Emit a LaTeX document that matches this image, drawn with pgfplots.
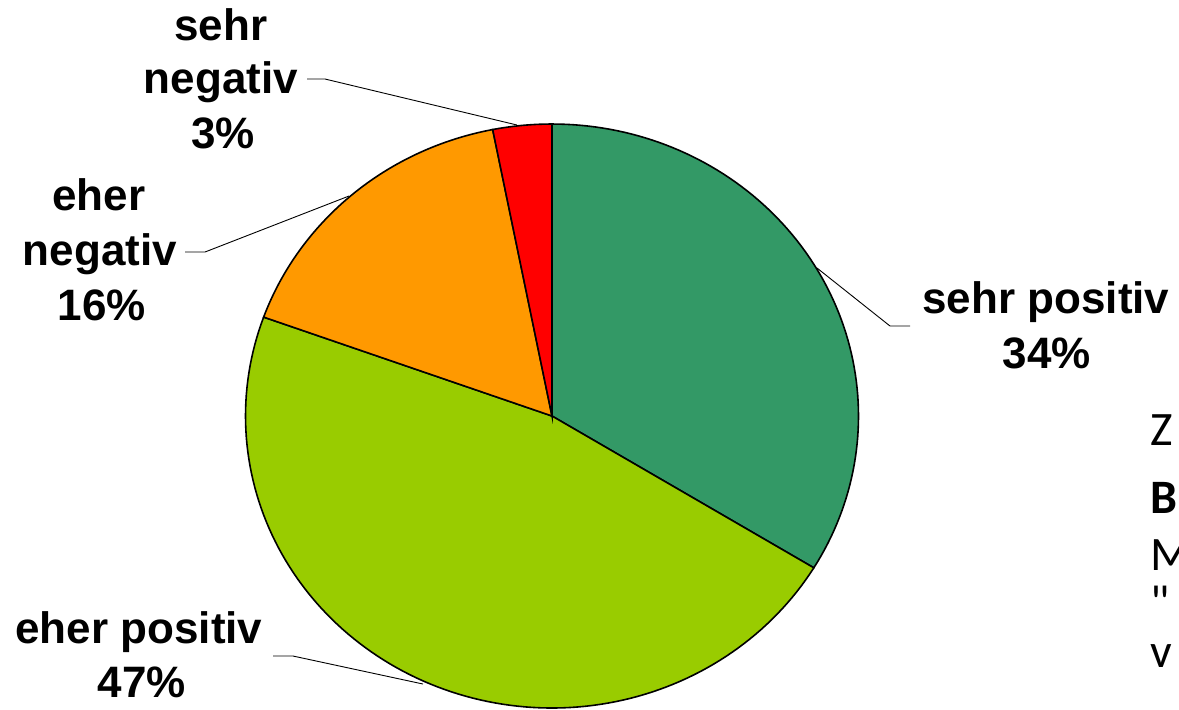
\documentclass[border=0pt]{standalone}
\usepackage{fontspec}
\setmainfont{Liberation Sans}
\newfontfamily\rightfont{Carlito}
\usepackage{pgfplots}
\pgfplotsset{compat=1.18}
\definecolor{sehrpos}{RGB}{51,153,102}
\definecolor{eherpos}{RGB}{153,204,0}
\definecolor{eherneg}{RGB}{255,153,0}
\definecolor{sehrneg}{RGB}{255,0,0}
% shares in percent (clockwise from 12 o'clock)
\def\vA{33.7}\def\vB{46.8}\def\vC{16.4}\def\vD{3.1}
\pgfmathsetmacro{\aA}{90}
\pgfmathsetmacro{\aB}{90-3.6*\vA}
\pgfmathsetmacro{\aC}{\aB-3.6*\vB}
\pgfmathsetmacro{\aD}{\aC-3.6*\vC}
\pgfmathsetmacro{\aE}{\aD-3.6*\vD}
\newcommand{\lbl}{\bfseries\fontsize{22}{27}\selectfont}
\newcommand{\rf}{\rightfont\fontsize{24}{28}\selectfont}
\begin{document}
\begin{tikzpicture}
\useasboundingbox (0,0) rectangle (589.5pt,-354.5pt);
\clip (0,0) rectangle (589.5pt,-354.5pt);
\begin{axis}[
  at={(0,0)}, anchor=north west,
  scale only axis, width=589.5pt, height=354.5pt,
  xmin=0, xmax=1179, ymin=0, ymax=709, y dir=reverse,
  hide axis, clip=false,
]
\addplot[draw=black, line width=0.8pt, fill=sehrpos, domain=\aB:\aA, samples=90]
  ({552+306.5*cos(x)},{416-292*sin(x)}) -- (axis cs:552,416) -- cycle;
\addplot[draw=black, line width=0.8pt, fill=eherpos, domain=\aC:\aB, samples=120]
  ({552+306.5*cos(x)},{416-292*sin(x)}) -- (axis cs:552,416) -- cycle;
\addplot[draw=black, line width=0.8pt, fill=eherneg, domain=\aD:\aC, samples=60]
  ({552+306.5*cos(x)},{416-292*sin(x)}) -- (axis cs:552,416) -- cycle;
\addplot[draw=black, line width=0.8pt, fill=sehrneg, domain=\aE:\aD, samples=20]
  ({552+306.5*cos(x)},{416-292*sin(x)}) -- (axis cs:552,416) -- cycle;

% leader lines
\draw[line width=0.45pt] (axis cs:307,79) -- (axis cs:325,79) -- (axis cs:517,125);
\draw[line width=0.45pt] (axis cs:185,252) -- (axis cs:205,252) -- (axis cs:349,196);
\draw[line width=0.45pt] (axis cs:817,268) -- (axis cs:890,326) -- (axis cs:910,326);
\draw[line width=0.45pt] (axis cs:273,656) -- (axis cs:293,656) -- (axis cs:423,684);

% labels
\node[anchor=base, font=\lbl, inner sep=0pt] at (axis cs:221,40) {sehr};
\node[anchor=base, font=\lbl, inner sep=0pt] at (axis cs:221,93) {negativ};
\node[anchor=base, font=\lbl, inner sep=0pt] at (axis cs:223,148) {3\%};
\node[anchor=base, font=\lbl, inner sep=0pt] at (axis cs:99,210) {eher};
\node[anchor=base, font=\lbl, inner sep=0pt] at (axis cs:100,265) {negativ};
\node[anchor=base, font=\lbl, inner sep=0pt] at (axis cs:102,320) {16\%};
\node[anchor=base, font=\lbl, inner sep=0pt] at (axis cs:1046,313) {sehr positiv};
\node[anchor=base, font=\lbl, inner sep=0pt] at (axis cs:1047,368) {34\%};
\node[anchor=base, font=\lbl, inner sep=0pt] at (axis cs:139,643) {eher positiv};
\node[anchor=base, font=\lbl, inner sep=0pt] at (axis cs:142,697) {47\%};

% cut-off text at the right edge
\node[anchor=base west, inner sep=0pt, font=\rf] at (axis cs:1150,445) {Z};
\node[anchor=base west, inner sep=0pt, font=\rf\bfseries] at (axis cs:1150,513) {B};
\node[anchor=base west, inner sep=0pt, font=\rf] at (axis cs:1150,570) {M};
\node[anchor=base west, inner sep=0pt, font=\rf] at (axis cs:1150,618) {"};
\node[anchor=base west, inner sep=0pt, font=\rf] at (axis cs:1150,667) {v};
\end{axis}
\end{tikzpicture}
\end{document}
